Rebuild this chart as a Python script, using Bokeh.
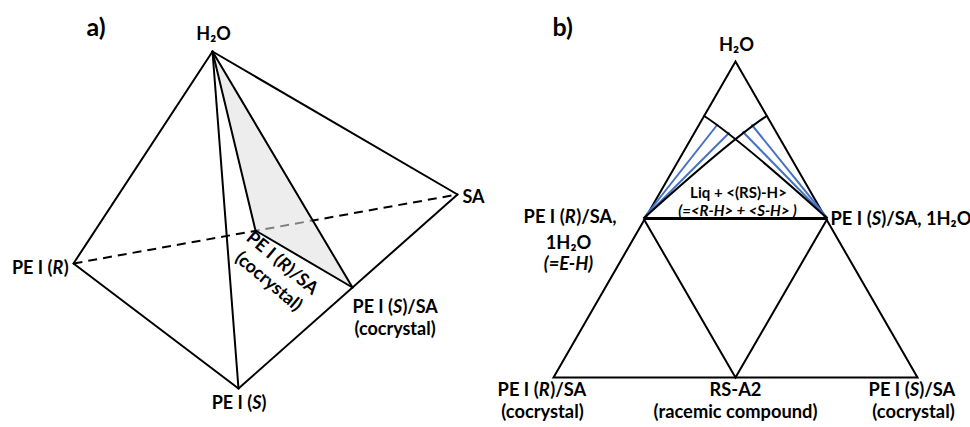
import math
from bokeh.plotting import figure
from bokeh.models import Range1d
from bokeh.core.properties import value
from bokeh.embed import file_html
from bokeh.resources import INLINE

FONT = "Lato"

# ---------------- panel a: tetrahedron (picture pixel coordinates) ----------------
a_names = ["H2O", "SA", "PE I (R)", "PE I (S)", "PE I (R)/SA", "PE I (S)/SA"]
a_x = [212, 457, 73, 238, 255, 352]
a_y = [51, 194, 263, 388, 230, 287]
a_solid_edges = [(0, 2), (2, 3), (3, 1), (1, 0), (0, 3), (0, 4), (0, 5), (4, 5)]
a_dashed_edges = [(2, 1)]
a_shaded = [0, 4, 5]

# ---------------- panel b: triangle ----------------
b_tri_x = [735, 553, 917]          # H2O apex, bottom-left, bottom-right
b_tri_y = [61, 377, 377]
b_in_x = [643, 827, 735]           # left side point, right side point, bottom middle (RS-A2)
b_in_y = [218, 218, 377]
# solubility curves (quadratic): start, end, control
b_cur_x0 = [643, 827]
b_cur_y0 = [218, 218]
b_cur_x1 = [767, 703]
b_cur_y1 = [115, 115]
b_cur_cx = [732.6, 737.4]
b_cur_cy = [137.4, 137.4]
# blue tie lines
b_tie_x0 = [643, 643, 827, 827]
b_tie_y0 = [218, 218, 218, 218]
b_tie_x1 = [717, 729, 751, 742]
b_tie_y1 = [124, 132, 124, 131]

BLUE = "#4472C4"

# approximate advance widths (em) for Lato Bold
W_TAB = {
    "A": .70, "B": .64, "C": .66, "D": .74, "E": .55, "H": .75, "I": .29, "O": .79,
    "P": .60, "R": .63, "S": .52, "a": .50, "c": .45, "e": .51, "i": .25, "l": .25,
    "m": .82, "n": .56, "o": .56, "p": .56, "q": .56, "r": .38, "s": .43, "t": .36,
    "u": .56, "y": .52, "d": .56, "(": .32, ")": .32, "/": .38, ",": .22, "=": .58,
    "+": .58, "<": .58, ">": .58, "-": .36, " ": .19, "1": .58, "2": .58, "\u2082": .38,
}


def tw(s, size):
    return sum(W_TAB.get(c, .55) for c in s) * size


W, H = 970, 427
p = figure(width=W, height=H, x_range=Range1d(0, W), y_range=Range1d(H, 0),
           output_backend="svg", toolbar_location=None, min_border=0)
p.axis.visible = False
p.grid.visible = False
p.outline_line_color = None
p.background_fill_color = "white"
p.border_fill_color = "white"


def txt(s, x, y, size, style="bold", align="center", angle=0.0):
    p.text(x=[x], y=[y], text=[s], text_font=value(FONT), text_font_size=f"{size}px",
           text_font_style=style, text_align=align, text_baseline="middle",
           text_color="black", angle=angle)


def rich(segs, x, y, size, align="center", angle=0.0):
    widths = [tw(t, size) for t, _ in segs]
    total = sum(widths)
    start = {"center": -total / 2, "left": 0.0, "right": -total}[align]
    dx, dy = math.cos(angle), -math.sin(angle)
    off = start
    for i, ((t, st), w) in enumerate(zip(segs, widths)):
        if i == 0:
            o, al = off + w, "right"
        else:
            o, al = off, "left"
        txt(t, x + o * dx, y + o * dy, size, st, al, angle)
        off += w


B, BI = "bold", "bold italic"

# ---------------- draw panel a ----------------
for i, j in a_dashed_edges:
    p.line([a_x[i], a_x[j]], [a_y[i], a_y[j]], line_color="black", line_width=2,
           line_dash="9 6")
p.patch([a_x[k] for k in a_shaded], [a_y[k] for k in a_shaded], fill_color="#dfdfdf",
        fill_alpha=0.57, line_color=None)
p.multi_line([[a_x[i], a_x[j]] for i, j in a_solid_edges],
             [[a_y[i], a_y[j]] for i, j in a_solid_edges],
             line_color="black", line_width=2, line_cap="round", line_join="round")

SA_ = 18
txt("a)", 86, 25, 25, B, "left")
txt("H\u2082O", 213, 32, SA_, B)
txt("SA", 462, 195, SA_, B, "left")
rich([("PE I (", B), ("R", BI), (")", B)], 69, 266, SA_, "right")
rich([("PE I (", B), ("S", BI), (")", B)], 240, 401, SA_, "center")
rich([("PE I (", B), ("S", BI), (")/SA", B)], 354, 305, SA_, "left")
txt("(cocrystal)", 354, 327, SA_, B, "left")
ang = -math.radians(40)
rich([("PE I (", B), ("R", BI), (")/SA", B)], 283, 262, SA_, "center", ang)
txt("(cocrystal)", 269, 280, SA_, B, "center", ang)

# ---------------- draw panel b ----------------
p.patch(b_tri_x, b_tri_y, fill_color=None, line_color="black", line_width=2,
        line_join="miter")
p.line([b_in_x[0], b_in_x[2], b_in_x[1]], [b_in_y[0], b_in_y[2], b_in_y[1]],
       line_color="black", line_width=2, line_join="miter")
p.line([b_in_x[0], b_in_x[1]], [b_in_y[0], b_in_y[1]], line_color="black", line_width=3)
p.segment(b_tie_x0, b_tie_y0, b_tie_x1, b_tie_y1, line_color=BLUE, line_width=2)
p.quadratic(x0=b_cur_x0, y0=b_cur_y0, x1=b_cur_x1, y1=b_cur_y1, cx=b_cur_cx, cy=b_cur_cy,
            line_color="black", line_width=2)

SB = 18.3
txt("b)", 552, 25, 25, B, "left")
txt("H\u2082O", 736, 43, SB, B)
rich([("PE I (", B), ("R", BI), (")/SA,", B)], 570, 215, SB, "center")
txt("1H\u2082O", 568, 241, SB, B)
txt("(=E-H)", 568, 262, SB, BI)
rich([("PE I (", B), ("S", BI), (")/SA, 1H\u2082O", B)], 832, 217, SB, "left")
txt("Liq + <(RS)-H>", 738, 191, 15, B)
txt("(=<R-H> + <S-H> )", 737, 209, 15, BI)
rich([("PE I (", B), ("R", BI), (")/SA", B)], 542, 388, SB, "center")
txt("(cocrystal)", 542, 410, SB, B)
txt("RS-A2", 735, 388, SB, B)
txt("(racemic compound)", 735, 410, SB, B)
rich([("PE I (", B), ("S", BI), (")/SA", B)], 912, 388, SB, "center")
txt("(cocrystal)", 913, 410, SB, B)

open("out.html", "w").write(file_html(p, INLINE))
